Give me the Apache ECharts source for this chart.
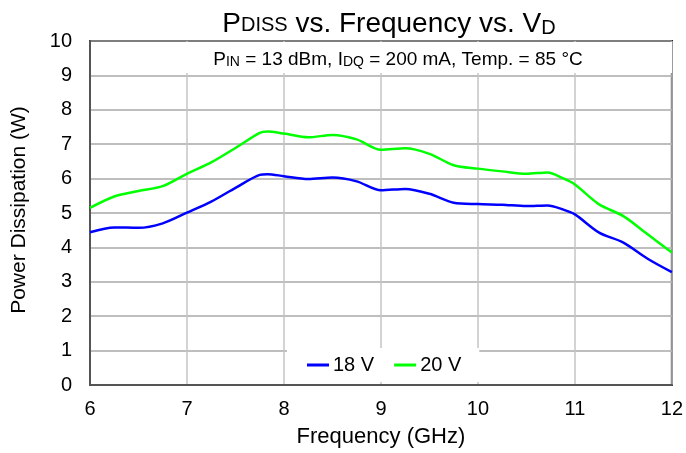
<!DOCTYPE html>
<html>
<head>
<meta charset="utf-8">
<script src="https://cdn.jsdelivr.net/npm/echarts@6/dist/echarts.min.js"></script>
<style>html,body{margin:0;padding:0;background:#fff}#c{width:686px;height:453px}</style>
</head>
<body>
<div id="c"></div>
<script>
const freq = [6.0, 6.25, 6.5, 6.75, 7.0, 7.25, 7.5, 7.75, 7.83, 8.0, 8.25, 8.5, 8.75, 9.0, 9.25, 9.5, 9.75, 10.0, 10.25, 10.5, 10.72, 10.87, 11.0, 11.25, 11.5, 11.75, 12.0];
const v18 = [4.44, 4.58, 4.57, 4.70, 5.01, 5.33, 5.73, 6.11, 6.13, 6.07, 5.99, 6.03, 5.92, 5.66, 5.70, 5.56, 5.30, 5.26, 5.24, 5.20, 5.22, 5.11, 4.96, 4.43, 4.14, 3.67, 3.28];
const v20 = [5.15, 5.48, 5.64, 5.78, 6.14, 6.47, 6.89, 7.33, 7.37, 7.31, 7.20, 7.27, 7.14, 6.84, 6.88, 6.72, 6.39, 6.29, 6.21, 6.14, 6.18, 6.02, 5.83, 5.25, 4.91, 4.38, 3.85];
const seriesNames = ['18 V', '20 V'];
const xTicks = [6, 7, 8, 9, 10, 11, 12];
const yTicks = [0, 1, 2, 3, 4, 5, 6, 7, 8, 9, 10];

const FONT = 'Liberation Sans, Arial, sans-serif';
const chart = echarts.init(document.getElementById('c'));
const pairs = arr => freq.map((f, i) => [f, arr[i]]);
const rs = (size, lh, extra) => Object.assign({ fontFamily: FONT, fontSize: size, lineHeight: lh, fontWeight: 'normal', color: '#000', verticalAlign: 'bottom' }, extra || {});

chart.setOption({
  animation: false,
  textStyle: { fontFamily: FONT, color: '#000' },
  title: [
    {
      text: '{a|P}{b|DISS}{a| vs. Frequency vs. V}{c|D}',
      left: 389, top: 6, textAlign: 'center', padding: 0,
      textStyle: {
        fontFamily: FONT, fontWeight: 'normal',
        rich: {
          a: rs(28, 32),
          b: rs(20, 20, { padding: [0, 0, 3, 0] }),
          c: rs(20, 20)
        }
      }
    },
    {
      text: '{a|P}{s|IN}{a| = 13 dBm, I}{s|DQ}{a| = 200 mA, Temp. = 85 °C}',
      left: 398, top: 45, textAlign: 'center', padding: 0, z: 10,
      textStyle: {
        fontFamily: FONT, fontWeight: 'normal',
        rich: {
          a: rs(19, 24),
          s: rs(14, 14)
        }
      }
    }
  ],
  graphic: [{
    type: 'rect', left: 91, top: 42, z: 1,
    shape: { width: 581, height: 31 },
    style: { fill: '#fff' }
  }],
  legend: {
    data: seriesNames.map(n => ({ name: n, icon: 'rect' })),
    left: 287, top: 348,
    padding: [7, 18, 7, 20],
    backgroundColor: '#fff',
    itemGap: 20, itemWidth: 22, itemHeight: 3,
    textStyle: { fontFamily: FONT, fontSize: 20, color: '#000', padding: [0, 0, 0, -1] }
  },
  grid: {
    left: 90, right: 13, top: 41, bottom: 67,
    show: true, borderColor: '#000', borderWidth: 2, backgroundColor: 'transparent'
  },
  xAxis: {
    type: 'value', min: xTicks[0], max: xTicks[xTicks.length - 1], interval: 1,
    name: 'Frequency (GHz)', nameLocation: 'middle', nameGap: 41,
    nameTextStyle: { fontFamily: FONT, fontSize: 22, color: '#000' },
    axisLine: { show: true, onZero: false, lineStyle: { color: '#555', width: 2 } },
    axisTick: { show: false },
    axisLabel: { fontFamily: FONT, fontSize: 20, color: '#000', margin: 14 },
    splitLine: { show: true, lineStyle: { color: '#c4c4c4', width: 1.5 } }
  },
  yAxis: {
    type: 'value', min: yTicks[0], max: yTicks[yTicks.length - 1], interval: 1,
    name: 'Power Dissipation (W)', nameLocation: 'middle', nameGap: 60, nameRotate: 90,
    nameTextStyle: { fontFamily: FONT, fontSize: 21, color: '#000', padding: [0, 0, 0, 6] },
    axisLine: { show: true, onZero: false, lineStyle: { color: '#555', width: 2 } },
    axisTick: { show: false },
    axisLabel: { fontFamily: FONT, fontSize: 20, color: '#000', margin: 18 },
    splitLine: { show: true, lineStyle: { color: '#a8a8a8', width: 1.5 } }
  },
  series: [
    {
      name: seriesNames[0], type: 'line', data: pairs(v18), smooth: 0.3,
      showSymbol: false, symbol: 'none', z: 3,
      lineStyle: { color: '#0000ff', width: 2.5 }, itemStyle: { color: '#0000ff' }
    },
    {
      name: seriesNames[1], type: 'line', data: pairs(v20), smooth: 0.3,
      showSymbol: false, symbol: 'none', z: 3,
      lineStyle: { color: '#00ff00', width: 2.5 }, itemStyle: { color: '#00ff00' }
    }
  ]
});
</script>
</body>
</html>
